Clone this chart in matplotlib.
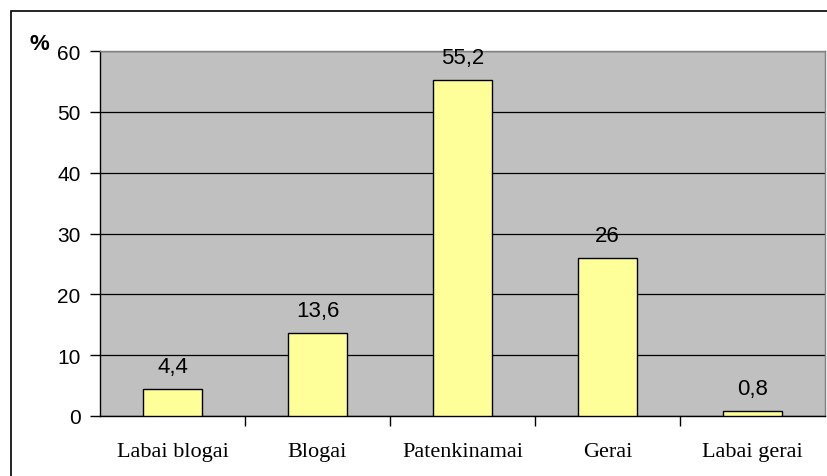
import matplotlib.pyplot as plt
from matplotlib.patches import Rectangle

categories = ['Labai blogai', 'Blogai', 'Patenkinamai', 'Gerai', 'Labai gerai']
values = [4.4, 13.6, 55.2, 26, 0.8]
value_labels = ['4,4', '13,6', '55,2', '26', '0,8']

W, H = 827, 477
fig = plt.figure(figsize=(W / 100, H / 100), dpi=100)
fig.patch.set_facecolor('white')

# outer chart frame (cut off at right and bottom)
fig.add_artist(Rectangle((11 / W, -0.1), 1.2, 1.1 - 12 / H, transform=fig.transFigure,
                         fill=False, edgecolor='black', linewidth=1.2))

ax = fig.add_axes([100 / W, 1 - 417 / H, 725 / W, (417 - 52) / H])
ax.set_facecolor('#C0C0C0')

x = range(len(categories))
ax.bar(x, values, width=0.41, color='#FFFF99', edgecolor='black', linewidth=1.0, zorder=3)

for xi, v, lab in zip(x, values, value_labels):
    ax.annotate(lab, (xi, v), xytext=(0, 17), textcoords='offset pixels',
                ha='center', va='baseline', fontsize=16, family='Liberation Sans', zorder=4)

ax.set_xlim(-0.5, len(categories) - 0.5)
ax.set_ylim(0, 60)
ax.set_yticks(range(0, 61, 10))
ax.yaxis.grid(True, color='black', linewidth=0.9, zorder=1)
ax.set_axisbelow(True)

ax.set_xticks([i + 0.5 for i in range(len(categories) - 1)], minor=False)
ax.set_xticklabels([])
ax.set_xticks(list(x), minor=True)
ax.set_xticklabels(categories, minor=True, family='Liberation Serif', fontsize=16)
ax.tick_params(axis='x', which='major', direction='out', length=7, width=1, color='black')
ax.tick_params(axis='x', which='minor', length=0, pad=19)
ax.tick_params(axis='y', direction='out', length=7, width=1, color='black', pad=7)
for t in ax.get_yticklabels():
    t.set_family('Liberation Sans')
    t.set_fontsize(15)

for side in ['top', 'right']:
    ax.spines[side].set_color('#808080')
for side in ['left', 'bottom']:
    ax.spines[side].set_color('black')
for s in ax.spines.values():
    s.set_linewidth(1.0)

fig.text(29 / W, 1 - 44 / H, '%', fontsize=16, fontweight='bold', family='Liberation Sans',
         ha='left', va='center')

fig.savefig('out.png', dpi=100)
